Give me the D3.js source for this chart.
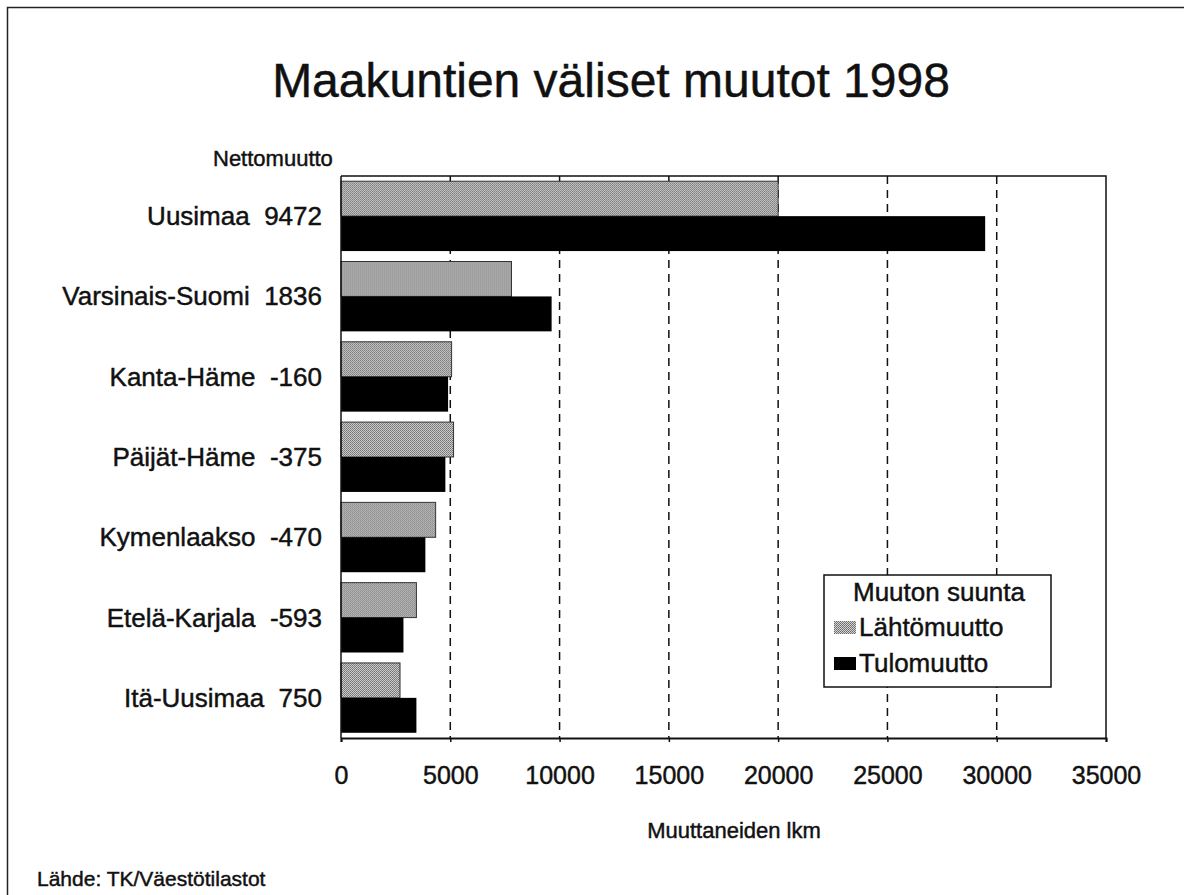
<!DOCTYPE html>
<html>
<head>
<meta charset="utf-8">
<script src="https://cdn.jsdelivr.net/npm/d3@7"></script>
<style>
	body { margin: 0; background: #fff; }
	svg { display: block; font-family: "Liberation Sans", Arial, sans-serif; }
	svg text { stroke: #111; stroke-width: 0.45px; }
</style>
</head>
<body>
<script>
	// data
	const regions = ["Uusimaa", "Varsinais-Suomi", "Kanta-Häme", "Päijät-Häme", "Kymenlaakso", "Etelä-Karjala", "Itä-Uusimaa"];
	const netMigration = [9472, 1836, -160, -375, -470, -593, 750];
	const outMigration = [20000, 7800, 5060, 5150, 4330, 3450, 2700];
	const inMigration = [29472, 9636, 4900, 4775, 3860, 2857, 3450];
	const xTicks = [0, 5000, 10000, 15000, 20000, 25000, 30000, 35000];
	const seriesNames = ["Lähtömuutto", "Tulomuutto"];

	// sizes
	const w = 1184;
	const h = 895;
	const plotLeft = 341;
	const plotRight = 1106;
	const plotTop = 176;
	const plotBottom = 738;

	const svg = d3.select("body")
		.append("svg")
		.attr("width", w)
		.attr("height", h);

	// stippled gray fill for the outgoing bars
	const defs = svg.append("defs");
	const pat = defs.append("pattern")
		.attr("id", "stipple")
		.attr("width", 2)
		.attr("height", 2)
		.attr("patternUnits", "userSpaceOnUse");
	pat.append("rect").attr("width", 2).attr("height", 2).attr("fill", "#d4d4d4");
	pat.append("rect").attr("x", 0).attr("y", 0).attr("width", 1).attr("height", 1).attr("fill", "#6a6a6a");
	pat.append("rect").attr("x", 1).attr("y", 1).attr("width", 1).attr("height", 1).attr("fill", "#7a7a7a");

	// outer frame
	svg.append("path")
		.attr("d", "M7.5," + h + " L7.5,7.5 L" + w + ",7.5")
		.attr("fill", "none")
		.attr("stroke", "#222")
		.attr("stroke-width", 1.5);

	// scales
	const xScale = d3.scaleLinear()
		.domain([0, 35000])
		.range([plotLeft, plotRight]);

	const yScale = d3.scaleBand()
		.domain(regions)
		.range([plotTop, plotBottom])
		.paddingInner(0.13)
		.paddingOuter(0.065);

	const sub = d3.scaleBand()
		.domain(seriesNames)
		.range([0, yScale.bandwidth()]);

	// title
	svg.append("text")
		.text("Maakuntien väliset muutot 1998")
		.attr("x", 611)
		.attr("y", 97)
		.attr("text-anchor", "middle")
		.attr("font-size", 48)
		.attr("fill", "#111");

	svg.append("text")
		.text("Nettomuutto")
		.attr("x", 213)
		.attr("y", 166)
		.attr("font-size", 22)
		.attr("fill", "#111");

	// dashed grid lines
	svg.append("g")
		.selectAll("line")
		.data(xTicks.slice(1, -1))
		.enter()
		.append("line")
		.attr("x1", (d) => xScale(d))
		.attr("x2", (d) => xScale(d))
		.attr("y1", plotTop)
		.attr("y2", plotBottom)
		.attr("stroke", "#111")
		.attr("stroke-width", 1.5)
		.attr("stroke-dasharray", "8,6");

	// plot frame (top and right)
	svg.append("path")
		.attr("d", "M" + plotLeft + "," + plotTop + " L" + plotRight + "," + plotTop + " L" + plotRight + "," + plotBottom)
		.attr("fill", "none")
		.attr("stroke", "#111")
		.attr("stroke-width", 1.5);

	// bars
	const groups = svg.append("g")
		.selectAll("g")
		.data(regions)
		.enter()
		.append("g")
		.attr("transform", (d) => "translate(0," + yScale(d) + ")");

	groups.append("rect")
		.attr("x", xScale(0))
		.attr("y", sub(seriesNames[0]))
		.attr("width", (d, i) => xScale(outMigration[i]) - xScale(0))
		.attr("height", sub.bandwidth())
		.attr("fill", "url(#stipple)")
		.attr("stroke", "#333")
		.attr("stroke-width", 1);

	groups.append("rect")
		.attr("x", xScale(0))
		.attr("y", sub(seriesNames[1]))
		.attr("width", (d, i) => xScale(inMigration[i]) - xScale(0))
		.attr("height", sub.bandwidth())
		.attr("fill", "#000");

	// category labels with net migration
	groups.append("text")
		.text((d, i) => d + "  " + netMigration[i])
		.attr("x", 322)
		.attr("y", yScale.bandwidth() / 2 + 9)
		.attr("text-anchor", "end")
		.attr("font-size", 26)
		.attr("fill", "#111")
		.style("white-space", "pre");

	// x axis
	const xAxis = d3.axisBottom(xScale)
		.tickValues(xTicks)
		.tickFormat((d) => d)
		.tickSize(4);

	const gx = svg.append("g")
		.attr("transform", "translate(0," + plotBottom + ")")
		.call(xAxis);
	gx.select(".domain").attr("stroke", "#111").attr("stroke-width", 2);
	gx.selectAll(".tick line").attr("stroke", "#111").attr("stroke-width", 1.5);
	gx.selectAll(".tick text")
		.attr("font-size", 25)
		.attr("font-family", "Liberation Sans, Arial, sans-serif")
		.attr("fill", "#111")
		.attr("dy", 0)
		.attr("y", 46);

	// y axis line
	svg.append("line")
		.attr("x1", plotLeft)
		.attr("x2", plotLeft)
		.attr("y1", plotTop)
		.attr("y2", plotBottom)
		.attr("stroke", "#111")
		.attr("stroke-width", 1.5);

	svg.append("text")
		.text("Muuttaneiden lkm")
		.attr("x", 734)
		.attr("y", 838)
		.attr("text-anchor", "middle")
		.attr("font-size", 22)
		.attr("fill", "#111");

	svg.append("text")
		.text("Lähde: TK/Väestötilastot")
		.attr("x", 37)
		.attr("y", 886)
		.attr("font-size", 21)
		.attr("fill", "#111");

	// legend
	const legend = svg.append("g").attr("transform", "translate(824,575)");
	legend.append("rect")
		.attr("width", 227)
		.attr("height", 112)
		.attr("fill", "#fff")
		.attr("stroke", "#111")
		.attr("stroke-width", 1.5);
	legend.append("text")
		.text("Muuton suunta")
		.attr("x", 115)
		.attr("y", 26)
		.attr("text-anchor", "middle")
		.attr("font-size", 26)
		.attr("fill", "#111");

	const items = legend.selectAll(".item")
		.data(seriesNames)
		.enter()
		.append("g")
		.attr("class", "item")
		.attr("transform", (d, i) => "translate(10," + (46 + i * 36) + ")");
	items.append("rect")
		.attr("width", 22)
		.attr("height", 13)
		.attr("fill", (d, i) => (i === 0 ? "url(#stipple)" : "#000"));
	items.append("text")
		.text((d) => d)
		.attr("x", 25)
		.attr("y", 15)
		.attr("font-size", 26)
		.attr("fill", "#111");
</script>
</body>
</html>
